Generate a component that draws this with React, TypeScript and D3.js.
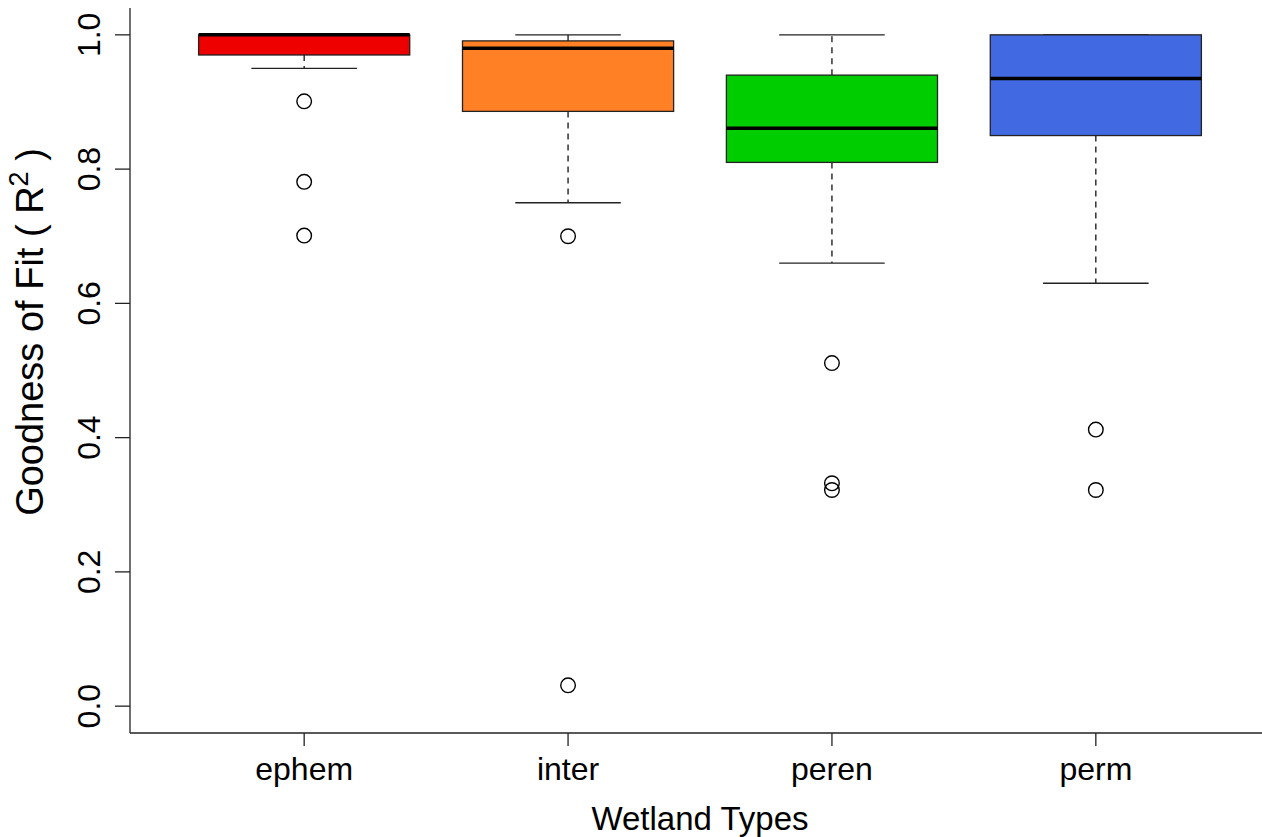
import React from 'react';
import * as d3 from 'd3';

const categories = ['ephem', 'inter', 'peren', 'perm'];
const q1 = [0.97, 0.886, 0.81, 0.85];
const median = [1.0, 0.98, 0.861, 0.935];
const q3 = [1.0, 0.991, 0.94, 1.0];
const whiskerLow = [0.95, 0.75, 0.66, 0.63];
const whiskerHigh = [1.0, 1.0, 1.0, 1.0];
const outliers = [
    [0.901, 0.781, 0.701],
    [0.70, 0.031],
    [0.511, 0.332, 0.322],
    [0.412, 0.322],
];
const fills = ['#EE0000', '#FF8025', '#00CD00', '#4169E1'];
const yTicks = [0, 0.2, 0.4, 0.6, 0.8, 1.0];

const font = '"Liberation Sans", Arial, sans-serif';

const App = () => {
    const width = 1262, height = 837;
    const left = 130, right = 1270, top = 8, bottom = 733;

    const x = d3.scaleLinear().domain([0.34, 4.66]).range([left, right]);
    const y = d3.scaleLinear().domain([-0.04, 1.04]).range([bottom, top]);

    const unit = x(2) - x(1);
    const boxHalf = unit * 0.4;
    const capHalf = boxHalf / 2;

    return (
        <svg width={width} height={height}
            style={{ position: 'absolute', left: 0, top: 0, display: 'block', background: '#fff' }}>
            {categories.map((c, i) => {
                const cx = x(i + 1);
                return (
                    <g key={c}>
                        {/* whiskers */}
                        <line x1={cx} x2={cx} y1={y(q1[i])} y2={y(whiskerLow[i])}
                            stroke="#111" strokeWidth={1.3} strokeDasharray="6,5" />
                        <line x1={cx} x2={cx} y1={y(q3[i])} y2={y(whiskerHigh[i])}
                            stroke="#111" strokeWidth={1.3} strokeDasharray="6,5" />
                        <line x1={cx - capHalf} x2={cx + capHalf} y1={y(whiskerLow[i])} y2={y(whiskerLow[i])}
                            stroke="#222" strokeWidth={1.4} />
                        <line x1={cx - capHalf} x2={cx + capHalf} y1={y(whiskerHigh[i])} y2={y(whiskerHigh[i])}
                            stroke="#222" strokeWidth={1.4} />
                        {/* box */}
                        <rect x={cx - boxHalf} y={y(q3[i])} width={boxHalf * 2} height={y(q1[i]) - y(q3[i])}
                            fill={fills[i]} stroke="#222" strokeWidth={1.3} />
                        <line x1={cx - boxHalf} x2={cx + boxHalf} y1={y(median[i])} y2={y(median[i])}
                            stroke="#000" strokeWidth={3.5} />
                        {outliers[i].map((v, j) => (
                            <circle key={j} cx={cx} cy={y(v)} r={7.3} fill="none" stroke="#000" strokeWidth={1.4} />
                        ))}
                    </g>
                );
            })}

            {/* axes */}
            <line x1={left} x2={left} y1={top} y2={bottom} stroke="#222" strokeWidth={1.3} />
            <line x1={left} x2={right} y1={bottom} y2={bottom} stroke="#222" strokeWidth={1.3} />

            {yTicks.map(t => (
                <g key={t}>
                    <line x1={left - 15} x2={left} y1={y(t)} y2={y(t)} stroke="#222" strokeWidth={1.3} />
                    <text transform={`translate(100,${y(t)}) rotate(-90)`} textAnchor="middle"
                        fontFamily={font} fontSize={32} fill="#000">{t.toFixed(1)}</text>
                </g>
            ))}

            {categories.map((c, i) => (
                <g key={c}>
                    <line x1={x(i + 1)} x2={x(i + 1)} y1={bottom} y2={bottom + 13} stroke="#222" strokeWidth={1.3} />
                    <text x={x(i + 1)} y={780} textAnchor="middle" fontFamily={font} fontSize={32} fill="#000">{c}</text>
                </g>
            ))}

            <text x={(left + right) / 2} y={830} textAnchor="middle" fontFamily={font} fontSize={33} fill="#000">
                Wetland Types
            </text>

            <text transform="translate(43,332) rotate(-90)" textAnchor="middle" fontFamily={font} fontSize={38} fill="#000"
                style={{ whiteSpace: 'pre' }}>
                {'Goodness of Fit ( R'}<tspan dy={-15} fontSize={27}>2</tspan><tspan dy={15}>{' )'}</tspan>
            </text>
        </svg>
    );
};

export default App;
